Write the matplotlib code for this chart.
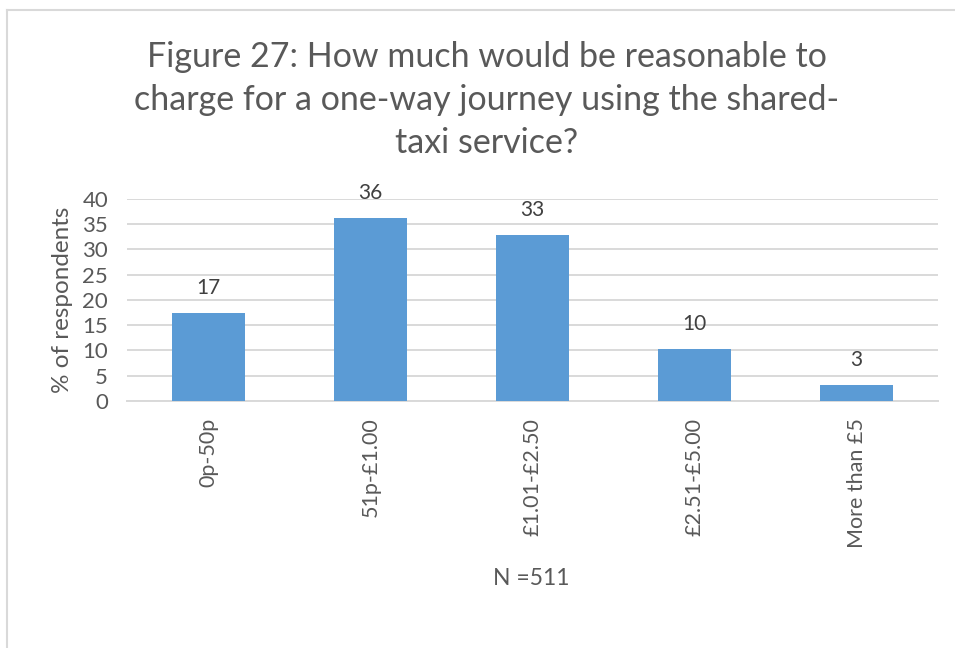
import matplotlib.pyplot as plt
from matplotlib.lines import Line2D
import numpy as np

plt.rcParams['font.family'] = ['Lato', 'DejaVu Sans']

categories = ['0p-50p', '51p-£1.00', '£1.01-£2.50', '£2.51-£5.00', 'More than £5']
percent = [17.4, 36.2, 32.9, 10.2, 3.2]
y_ticks = [0, 5, 10, 15, 20, 25, 30, 35, 40]

title = ('Figure 27: How much would be reasonable to\n'
         'charge for a one-way journey using the shared-\n'
         'taxi service?')

bar_color = '#5B9BD5'
text_grey = '#595959'

fig = plt.figure(figsize=(9.55, 6.48), dpi=100)
ax = fig.add_axes([0.1335, 0.3812, 0.8482, 0.3117])

x = np.arange(len(categories))
bars = ax.bar(x, percent, width=0.45, color=bar_color, zorder=3)

for rect, v in zip(bars, percent):
    ax.annotate('{:.0f}'.format(v), (rect.get_x() + rect.get_width() / 2, v),
                xytext=(0, 18), textcoords='offset points',
                ha='center', va='center', fontsize=15, color='#404040')

ax.set_xlim(-0.5, len(categories) - 0.5)
ax.set_ylim(0, 40)
ax.set_yticks(y_ticks)
ax.set_xticks(x)
ax.set_xticklabels(categories, rotation=90, fontsize=15.5, color=text_grey)
ax.tick_params(axis='y', labelsize=16, labelcolor=text_grey, length=0, pad=14)
ax.tick_params(axis='x', length=0, pad=12)

ax.grid(axis='y', color='#D9D9D9', linewidth=1.4, zorder=0)
for side in ['top', 'right', 'left']:
    ax.spines[side].set_visible(False)
ax.spines['bottom'].set_color('#D9D9D9')
ax.spines['bottom'].set_linewidth(1.4)

ax.set_ylabel('% of respondents', fontsize=17.5, color=text_grey, labelpad=7)

fig.text(0.51, 0.846, title, ha='center', va='center', fontsize=24.5,
         color=text_grey, linespacing=1.43)
fig.text(0.556, 0.108, 'N =511', ha='center', va='center', fontsize=16.5,
         color=text_grey)

# thin frame around the chart area (top and left edges)
fig.add_artist(Line2D([0.0073, 0.0073], [0, 0.985], transform=fig.transFigure,
                      color='#D9D9D9', linewidth=1.5))
fig.add_artist(Line2D([0.0073, 1], [0.985, 0.985], transform=fig.transFigure,
                      color='#D9D9D9', linewidth=1.5))

fig.savefig('out.png', dpi=100, facecolor='white')
